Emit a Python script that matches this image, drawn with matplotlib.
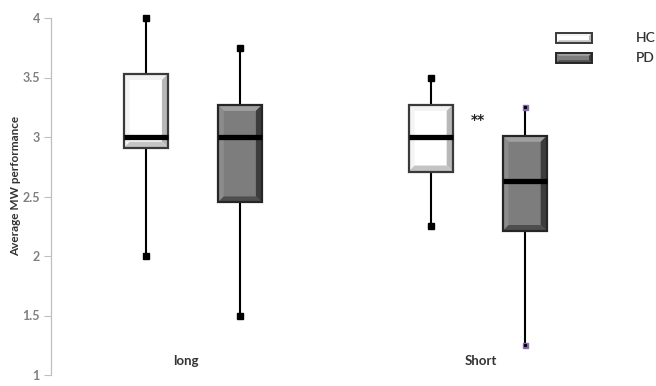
import matplotlib
matplotlib.use("Agg")
import matplotlib.pyplot as plt
from matplotlib.patches import Rectangle, Polygon

# Box-plot summary values per condition and group
categories = ["long", "Short"]
groups = ["HC", "PD"]
whisker_low = {"HC": [2.0, 2.25], "PD": [1.5, 1.25]}
q1 = {"HC": [2.91, 2.71], "PD": [2.45, 2.21]}
median = {"HC": [3.0, 3.0], "PD": [3.0, 2.63]}
q3 = {"HC": [3.53, 3.27], "PD": [3.27, 3.01]}
whisker_high = {"HC": [4.0, 3.5], "PD": [3.75, 3.25]}
yticks = [1, 1.5, 2, 2.5, 3, 3.5, 4]
ytick_labels = ["1", "1.5", "2", "2.5", "3", "3.5", "4"]
significance = "**"
sig_y = 3.14

plt.rcParams["font.family"] = ["Lato", "DejaVu Sans"]

W, H = 656, 386
fig = plt.figure(figsize=(W / 100, H / 100), dpi=100)
ax_left, ax_right, ax_top, ax_bot = 51, 620, 18, 375
ax = fig.add_axes([ax_left / W, 1 - ax_bot / H, (ax_right - ax_left) / W, (ax_bot - ax_top) / H])
xlim = (-0.498, 1.5)
ylim = (1, 4)
ax.set_xlim(*xlim)
ax.set_ylim(*ylim)

px_x = (ax_right - ax_left) / (xlim[1] - xlim[0])
px_y = (ax_bot - ax_top) / (ylim[1] - ylim[0])

styles = {
    "HC": dict(face="#ffffff", top="#f2f2f2", left="#f4f4f4", right="#b8b8b8", bottom="#c4c4c4", edge="#3a3a3a"),
    "PD": dict(face="#7d7d7d", top="#a0a0a0", left="#8c8c8c", right="#3c3c3c", bottom="#4e4e4e", edge="#262626"),
}
cap_colors = {"HC": ["black", "black"], "PD": ["black", "#8a6bb0"]}
offset = 0.165
box_w = 0.155


def bevel_box(x, lo, hi, st):
    x0, x1 = x - box_w / 2, x + box_w / 2
    bx = 6 / px_x
    by = 6 / px_y
    ax.add_patch(Rectangle((x0, lo), x1 - x0, hi - lo, facecolor=st["face"], edgecolor="none", zorder=2))
    ix0, ix1, iy0, iy1 = x0 + bx, x1 - bx, lo + by, hi - by
    ax.add_patch(Polygon([(x0, hi), (x1, hi), (ix1, iy1), (ix0, iy1)], facecolor=st["top"], edgecolor="none", zorder=3))
    ax.add_patch(Polygon([(x0, lo), (x0, hi), (ix0, iy1), (ix0, iy0)], facecolor=st["left"], edgecolor="none", zorder=3))
    ax.add_patch(Polygon([(x1, lo), (x1, hi), (ix1, iy1), (ix1, iy0)], facecolor=st["right"], edgecolor="none", zorder=3))
    ax.add_patch(Polygon([(x0, lo), (x1, lo), (ix1, iy0), (ix0, iy0)], facecolor=st["bottom"], edgecolor="none", zorder=3))
    ax.add_patch(Rectangle((x0, lo), x1 - x0, hi - lo, facecolor="none", edgecolor=st["edge"], lw=1.6, zorder=4))


for gi, g in enumerate(groups):
    sign = -1 if g == "HC" else 1
    for ci, _ in enumerate(categories):
        x = ci + sign * offset
        ax.plot([x, x], [whisker_low[g][ci], q1[g][ci]], color="black", lw=1.5, zorder=1)
        ax.plot([x, x], [q3[g][ci], whisker_high[g][ci]], color="black", lw=1.5, zorder=1)
        bevel_box(x, q1[g][ci], q3[g][ci], styles[g])
        ax.plot([x - box_w / 2, x + box_w / 2], [median[g][ci]] * 2, color="black", lw=3.8,
                solid_capstyle="butt", zorder=5)
        cc = cap_colors[g][ci]
        ms = 4.0 if cc == "black" else 3.6
        ax.plot([x, x], [whisker_low[g][ci], whisker_high[g][ci]], ls="none", marker="s",
                ms=ms, mfc=cc, mec=cc, zorder=6, clip_on=False)
        if cc != "black":
            ax.plot([x, x], [whisker_low[g][ci], whisker_high[g][ci]], ls="none", marker="s",
                    ms=1.3, mfc="black", mec="black", zorder=7, clip_on=False)

# significance marker for the Short condition
ax.text(1.0, sig_y, significance, ha="center", va="center", fontsize=10, fontweight="bold",
        color="#222222", family="DejaVu Sans")

# category labels inside the plot area near the bottom
for ci, c in enumerate(categories):
    ax.text(ci - 0.025 if ci == 0 else ci + 0.01, 1.12, c, ha="center", va="center", fontsize=9.5,
            fontweight="bold", color="#333333")

ax.set_yticks(yticks)
ax.set_yticklabels(ytick_labels, fontweight="bold")
ax.tick_params(axis="y", length=5, width=0.8, color="#bfbfbf", labelsize=9, labelcolor="#808080", pad=3)
ax.set_xticks([])
for s in ["top", "right", "bottom"]:
    ax.spines[s].set_visible(False)
ax.spines["left"].set_color("#bfbfbf")
ax.spines["left"].set_linewidth(0.9)
ax.patch.set_alpha(0)

fig.text(16 / W, 1 - 186 / H, "Average MW performance", rotation=90, ha="center", va="center",
         fontsize=8.5, fontweight="bold", color="#333333")

# legend drawn in figure pixel coordinates
legend_y = [38, 58]
for g, yc in zip(groups, legend_y):
    st = styles[g]
    fx0, fx1 = 556, 592
    fy0, fy1 = yc - 5, yc + 5
    lax = fig.add_axes([fx0 / W, 1 - fy1 / H, (fx1 - fx0) / W, (fy1 - fy0) / H])
    lax.set_xlim(0, 1)
    lax.set_ylim(0, 1)
    lax.axis("off")
    b = 0.28
    bxr = 3 / 36
    lax.add_patch(Rectangle((0, 0), 1, 1, facecolor=st["face"], edgecolor="none"))
    lax.add_patch(Polygon([(0, 1), (1, 1), (1 - bxr, 1 - b), (bxr, 1 - b)], facecolor=st["top"], edgecolor="none"))
    lax.add_patch(Polygon([(1, 0), (1, 1), (1 - bxr, 1 - b), (1 - bxr, b)], facecolor=st["right"], edgecolor="none"))
    lax.add_patch(Polygon([(0, 0), (1, 0), (1 - bxr, b), (bxr, b)], facecolor=st["bottom"], edgecolor="none"))
    lax.add_patch(Rectangle((0, 0), 1, 1, facecolor="none", edgecolor=st["edge"], lw=1.4, clip_on=False))
    fig.text(636 / W, 1 - yc / H, g, ha="left", va="center", fontsize=10, fontweight="semibold",
             color="#333333")

fig.savefig("out.png", dpi=100)
